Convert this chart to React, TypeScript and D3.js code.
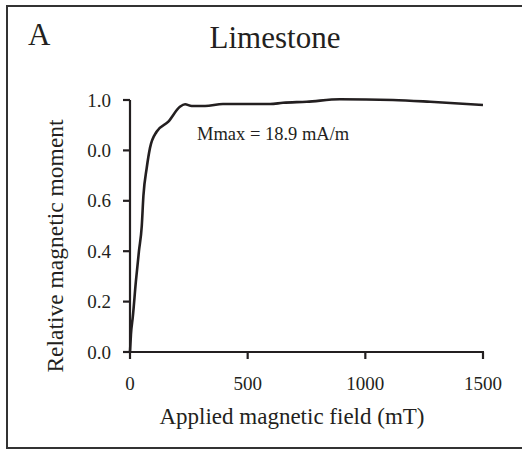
import React from "react";
import * as d3 from "d3";

// applied field (mT) vs relative moment
const fieldValues = [0, 4, 12, 25, 38, 50, 57, 71, 85, 113, 163, 212, 234, 262, 319, 395, 595, 650, 751, 892, 1117, 1275, 1500];
const momentValues = [0, 0.07, 0.14, 0.28, 0.4, 0.5, 0.62, 0.73, 0.81, 0.874, 0.914, 0.973, 0.983, 0.976, 0.976, 0.984, 0.984, 0.989, 0.993, 1.003, 1.0, 0.993, 0.98];

const xTicks = [0, 500, 1000, 1500];
const yTicks = [0, 0.2, 0.4, 0.6, 0.8, 1.0];
// the source figure labels 0.8 as "0.0"
const yTickLabels = ["0.0", "0.2", "0.4", "0.6", "0.0", "1.0"];

const ink = "#231f20";
const font = "'Liberation Serif', 'Times New Roman', serif";

export default function App() {
  const width = 522;
  const height = 450;
  const left = 130;
  const right = 483;
  const top = 100;
  const bottom = 352;

  const x = d3.scaleLinear().domain([0, 1500]).range([left, right]);
  const y = d3.scaleLinear().domain([0, 1]).range([bottom, top]);

  const points = fieldValues.map((f, i) => [f, momentValues[i]] as [number, number]);
  const line = d3
    .line<[number, number]>()
    .x((d) => x(d[0]))
    .y((d) => y(d[1]))
    .curve(d3.curveMonotoneX);

  return (
    <svg
      width={width}
      height={height}
      style={{ position: "absolute", left: 0, top: 0, background: "#fff" }}
      fontFamily={font}
    >
      {/* outer frame, right side runs off the picture */}
      <rect x={7} y={6} width={540} height={442} fill="none" stroke="#333" strokeWidth={2} />

      <text x={28} y={45} fontSize={31} fill={ink}>A</text>
      <text x={275} y={48} fontSize={31} fill={ink} textAnchor="middle">Limestone</text>

      {/* axes */}
      <line x1={left} x2={left} y1={top} y2={bottom + 1} stroke={ink} strokeWidth={2.2} />
      <line x1={left - 1} x2={right + 1} y1={bottom} y2={bottom} stroke={ink} strokeWidth={2.2} />

      {yTicks.map((t, i) => (
        <g key={"y" + i}>
          <line x1={left - 7} x2={left} y1={y(t)} y2={y(t)} stroke={ink} strokeWidth={2.2} />
          <text x={111} y={y(t)} dy="0.35em" fontSize={19} fill={ink} textAnchor="end">
            {yTickLabels[i]}
          </text>
        </g>
      ))}

      {xTicks.map((t) => (
        <g key={"x" + t}>
          <line x1={x(t)} x2={x(t)} y1={bottom} y2={bottom + 7} stroke={ink} strokeWidth={2.2} />
          <text x={x(t)} y={390} fontSize={19} fill={ink} textAnchor="middle">
            {t}
          </text>
        </g>
      ))}

      <text x={292} y={424} fontSize={23} fill={ink} textAnchor="middle">
        Applied magnetic field (mT)
      </text>
      <text
        transform={`translate(63, 246) rotate(-90)`}
        fontSize={23.5}
        fill={ink}
        textAnchor="middle"
      >
        Relative magnetic moment
      </text>

      <path d={line(points) || ""} fill="none" stroke={ink} strokeWidth={2.6} strokeLinejoin="round" />

      <text x={197} y={140} fontSize={18.5} fill={ink}>
        Mmax = 18.9 mA/m
      </text>
    </svg>
  );
}
